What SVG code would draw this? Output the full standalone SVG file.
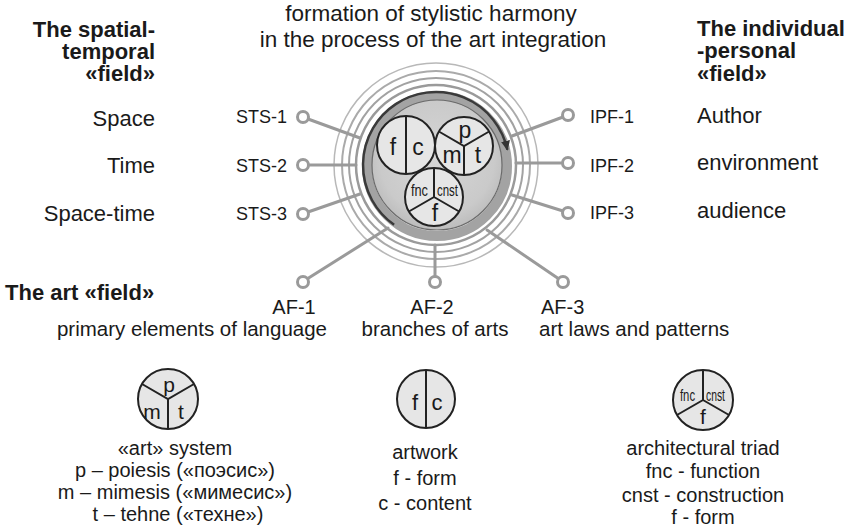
<svg xmlns="http://www.w3.org/2000/svg" width="850" height="528" viewBox="0 0 850 528">
<style>
text{font-family:"Liberation Sans",Arial,sans-serif;fill:#1a1a1a}
.b{font-weight:bold;font-size:22px}
.l{font-size:22px}
.s{font-size:18px}
.m{font-size:20px}
.t{font-size:22.5px}
.a{font-size:20.5px}
.e{text-anchor:end}
.c{text-anchor:middle}
.conn{stroke:#9a9a9a;stroke-width:3;fill:none;stroke-linecap:round}
.term{stroke:#9a9a9a;stroke-width:3;fill:#fff}
.ring{fill:none}
.sym{fill:#e6e6e6;stroke:#222;stroke-width:2}
.div{stroke:#222;stroke-width:2;fill:none}
.g{font-size:23px}
.n{font-size:17px}
.k{font-size:16px}
</style>
<defs>
<marker id="arr" viewBox="0 0 10 9" refX="9" refY="4.5" markerWidth="10" markerHeight="9" markerUnits="userSpaceOnUse" orient="auto">
<path d="M0,0 L10,4.5 L0,9 z" fill="#333"/>
</marker>
<radialGradient id="disk" cx="0.5" cy="0.45" r="0.55">
<stop offset="0" stop-color="#d6d6d6"/>
<stop offset="0.8" stop-color="#cacaca"/>
<stop offset="1" stop-color="#bdbdbd"/>
</radialGradient>
</defs>

<g id="title">
<text class="t c" x="431" y="21">formation of stylistic harmony<tspan x="433" y="47">in the process of the art integration</tspan></text>
</g>

<g id="sts-field">
<text class="b e" x="155" y="37">The spatial-<tspan x="155" y="59">temporal</tspan><tspan x="155" y="81">«field»</tspan></text>
<text class="l e" x="155" y="126">Space</text>
<text class="l e" x="155" y="173">Time</text>
<text class="l e" x="155" y="221">Space-time</text>
</g>

<g id="ipf-field">
<text class="b" x="697" y="36">The individual<tspan x="697" y="58">-personal</tspan><tspan x="697" y="81">«field»</tspan></text>
<text class="l" x="697" y="123">Author</text>
<text class="l" x="697" y="170">environment</text>
<text class="l" x="697" y="218">audience</text>
</g>

<g id="art-field">
<text class="b" x="5" y="300">The art «field»</text>
</g>

<g id="hub">
<circle class="ring" cx="436" cy="165" r="102" stroke="#b8b8b8" stroke-width="1.5"/>
<circle class="ring" cx="436" cy="165" r="94" stroke="#aaaaaa" stroke-width="2"/>
<circle class="ring" cx="436" cy="165" r="87" stroke="#a2a2a2" stroke-width="2"/>
<circle class="ring" cx="436" cy="165" r="80" stroke="#9a9a9a" stroke-width="2.5"/>
<circle class="ring" cx="437" cy="166" r="70" stroke="#a3a3a3" stroke-width="10"/>
<circle cx="437" cy="165" r="65" fill="url(#disk)" stroke="#6a6a6a" stroke-width="1.2"/>
<path d="M394.1,224.8 A73,73 0 1 1 507.4,149.8" fill="none" stroke="#3a3a3a" stroke-width="2.5" marker-end="url(#arr)"/>
</g>

<g id="connectors">
<line class="conn" x1="308" y1="119" x2="360" y2="138"/>
<line class="conn" x1="309" y1="165" x2="356" y2="165"/>
<line class="conn" x1="308" y1="212" x2="360" y2="194"/>
<line class="conn" x1="563" y1="117" x2="512" y2="136"/>
<line class="conn" x1="563" y1="163" x2="516" y2="163"/>
<line class="conn" x1="563" y1="211" x2="512" y2="195"/>
<line class="conn" x1="307" y1="279" x2="388" y2="228"/>
<line class="conn" x1="435" y1="276" x2="435" y2="245"/>
<line class="conn" x1="559" y1="279" x2="487" y2="230"/>
</g>

<g id="sts-nodes">
<circle class="term" cx="303" cy="117" r="5.5"/>
<circle class="term" cx="303" cy="165" r="5.5"/>
<circle class="term" cx="303" cy="214" r="5.5"/>
<text class="s e" x="287" y="123">STS-1</text>
<text class="s e" x="287" y="172">STS-2</text>
<text class="s e" x="287" y="220">STS-3</text>
</g>

<g id="ipf-nodes">
<circle class="term" cx="568" cy="115" r="5.5"/>
<circle class="term" cx="568" cy="163" r="5.5"/>
<circle class="term" cx="568" cy="213" r="5.5"/>
<text class="s" x="590" y="123">IPF-1</text>
<text class="s" x="590" y="172">IPF-2</text>
<text class="s" x="590" y="219">IPF-3</text>
</g>

<g id="af-nodes">
<circle class="term" cx="303" cy="282" r="5.5"/>
<circle class="term" cx="435" cy="282" r="5.5"/>
<circle class="term" cx="563" cy="282" r="5.5"/>
<text class="m c" x="294" y="314">AF-1</text>
<text class="m c" x="432" y="314">AF-2</text>
<text class="m" x="541" y="314">AF-3</text>
<text class="a c" x="192" y="336">primary elements of language</text>
<text class="a c" x="435" y="336">branches of arts</text>
<text class="a" x="539" y="336">art laws and patterns</text>
</g>

<g id="hub-triad">
<circle class="sym" cx="434" cy="197" r="29"/>
<path class="div" d="M434,168 L434,197 L408.9,211.5 M434,197 L459.1,211.5"/>
<text class="n" x="411" y="196" textLength="17" lengthAdjust="spacingAndGlyphs">fnc</text>
<text class="n" x="437" y="196" textLength="21" lengthAdjust="spacingAndGlyphs">cnst</text>
<text class="g c" x="435" y="221">f</text>
</g>

<g id="hub-artwork">
<circle class="sym" cx="406" cy="145" r="29"/>
<line class="div" x1="406" y1="116" x2="406" y2="174"/>
<text class="g c" x="393" y="155">f</text>
<text class="g c" x="418" y="155">c</text>
</g>

<g id="hub-art-system">
<circle class="sym" cx="464" cy="146" r="29"/>
<path class="div" d="M438.9,131.5 L464,146 L489.1,131.5 M464,146 L464,175"/>
<text class="g c" x="465" y="138">p</text>
<text class="g c" x="452" y="163">m</text>
<text class="g c" x="478" y="163">t</text>
</g>

<g id="legend-art-system">
<circle class="sym" cx="168" cy="399" r="30"/>
<path class="div" d="M142,384 L168,399 L194,384 M168,399 L168,429"/>
<text class="c" style="font-size:21px" x="169" y="392">p</text>
<text class="c" style="font-size:21px" x="152" y="419">m</text>
<text class="c" style="font-size:21px" x="181" y="419">t</text>
<text class="m c" x="175" y="455">«art» system</text>
<text class="m c" x="175" y="477">p – poiesis («поэсис»)</text>
<text class="m c" x="175" y="499">m – mimesis («мимесис»)</text>
<text class="m c" x="178" y="521">t – tehne («техне»)</text>
</g>

<g id="legend-artwork">
<circle class="sym" cx="426" cy="399" r="29"/>
<line class="div" x1="426" y1="370" x2="426" y2="428"/>
<text class="c" style="font-size:22px" x="415" y="410">f</text>
<text class="c" style="font-size:22px" x="437" y="410">c</text>
<text class="m c" x="425" y="459">artwork</text>
<text class="m c" x="425" y="485">f - form</text>
<text class="m c" x="425" y="510">c - content</text>
</g>

<g id="legend-triad">
<circle class="sym" cx="703" cy="400" r="30"/>
<path class="div" d="M703,370 L703,400 L677,415 M703,400 L729,415"/>
<text class="k" x="680" y="401" textLength="15" lengthAdjust="spacingAndGlyphs">fnc</text>
<text class="k" x="706" y="401" textLength="19" lengthAdjust="spacingAndGlyphs">cnst</text>
<text class="c" style="font-size:21px" x="703" y="424">f</text>
<text class="m c" x="703" y="455">architectural triad</text>
<text class="m c" x="703" y="478">fnc - function</text>
<text class="m c" x="703" y="502">cnst - construction</text>
<text class="m c" x="703" y="524">f - form</text>
</g>
</svg>
